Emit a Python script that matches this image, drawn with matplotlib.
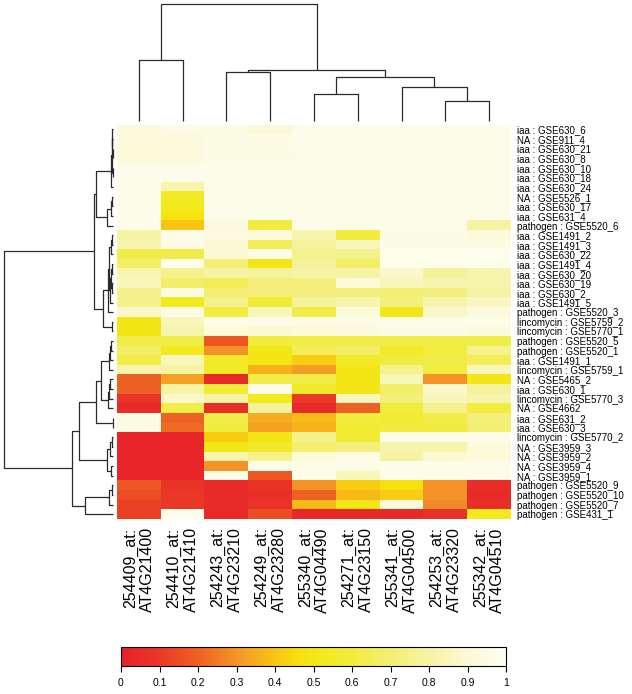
import numpy as np
import matplotlib
matplotlib.use("Agg")
import matplotlib.pyplot as plt
from matplotlib.colors import LinearSegmentedColormap

plt.rcParams['font.family'] = ['Liberation Sans', 'DejaVu Sans']

# ---------------- data ----------------
col_labels = ["254409_at:\nAT4G21400", "254410_at:\nAT4G21410", "254243_at:\nAT4G23210",
              "254249_at:\nAT4G23280", "255340_at:\nAT4G04490", "254271_at:\nAT4G23150",
              "255341_at:\nAT4G04500", "254253_at:\nAT4G23320", "255342_at:\nAT4G04510"]

row_labels = ["iaa : GSE630_6", "NA : GSE911_4", "iaa : GSE630_21", "iaa : GSE630_8",
              "iaa : GSE630_10", "iaa : GSE630_18", "iaa : GSE630_24", "NA : GSE5526_1",
              "iaa : GSE630_17", "iaa : GSE631_4", "pathogen : GSE5520_6", "iaa : GSE1491_2",
              "iaa : GSE1491_3", "iaa : GSE630_22", "iaa : GSE1491_4", "iaa : GSE630_20",
              "iaa : GSE630_19", "iaa : GSE630_2", "iaa : GSE1491_5", "pathogen : GSE5520_3",
              "lincomycin : GSE5759_2", "lincomycin : GSE5770_1", "pathogen : GSE5520_5",
              "pathogen : GSE5520_1", "iaa : GSE1491_1", "lincomycin : GSE5759_1",
              "NA : GSE5465_2", "iaa : GSE630_1", "lincomycin : GSE5770_3", "NA : GSE4662",
              "iaa : GSE631_2", "iaa : GSE630_3", "lincomycin : GSE5770_2", "NA : GSE3959_3",
              "NA : GSE3959_2", "NA : GSE3959_4", "NA : GSE3959_1", "pathogen : GSE5520_9",
              "pathogen : GSE5520_10", "pathogen : GSE5520_7", "pathogen : GSE431_1"]

c_254409 = [0.93, 0.92, 0.92, 0.92, 0.97, 0.97, 0.97, 0.97, 0.97, 0.97,
            0.97, 0.80, 0.82, 0.62, 0.68, 0.82, 0.85, 0.75, 0.75, 0.88,
            0.50, 0.50, 0.62, 0.68, 0.62, 0.82, 0.20, 0.20, 0.08, 0.05,
            0.95, 0.95, 0.03, 0.03, 0.03, 0.03, 0.03, 0.18, 0.15, 0.12, 0.12]
c_254410 = [0.95, 0.93, 0.93, 0.93, 0.97, 0.97, 0.82, 0.54, 0.52, 0.48,
            0.40, 0.97, 0.96, 0.62, 0.98, 0.75, 0.68, 0.95, 0.52, 0.95,
            0.85, 0.82, 0.62, 0.52, 0.85, 0.80, 0.33, 0.80, 0.88, 0.62,
            0.20, 0.22, 0.03, 0.03, 0.03, 0.03, 0.03, 0.08, 0.10, 0.10, 0.98]
c_254243 = [0.95, 0.95, 0.96, 0.95, 0.97, 0.97, 0.97, 0.97, 0.97, 0.97,
            0.93, 0.94, 0.90, 0.90, 0.70, 0.80, 0.65, 0.70, 0.75, 0.60,
            0.97, 0.92, 0.17, 0.30, 0.55, 0.55, 0.05, 0.58, 0.80, 0.06,
            0.62, 0.60, 0.42, 0.50, 0.82, 0.30, 0.97, 0.05, 0.05, 0.05, 0.05]
c_254249 = [0.91, 0.95, 0.95, 0.95, 0.97, 0.97, 0.97, 0.97, 0.97, 0.97,
            0.60, 0.93, 0.65, 0.95, 0.50, 0.78, 0.72, 0.72, 0.58, 0.85,
            0.97, 0.90, 0.60, 0.50, 0.50, 0.36, 0.62, 0.97, 0.52, 0.78,
            0.35, 0.33, 0.50, 0.55, 0.75, 0.97, 0.18, 0.08, 0.07, 0.08, 0.15]
c_255340 = [0.97, 0.97, 0.97, 0.96, 0.97, 0.97, 0.97, 0.97, 0.97, 0.97,
            0.97, 0.82, 0.78, 0.75, 0.78, 0.80, 0.72, 0.72, 0.78, 0.62,
            0.95, 0.92, 0.62, 0.65, 0.42, 0.32, 0.62, 0.55, 0.10, 0.05,
            0.38, 0.36, 0.75, 0.70, 0.92, 0.97, 0.97, 0.30, 0.20, 0.38, 0.04]
c_254271 = [0.97, 0.97, 0.97, 0.97, 0.97, 0.97, 0.97, 0.97, 0.97, 0.97,
            0.97, 0.60, 0.85, 0.75, 0.68, 0.80, 0.92, 0.72, 0.82, 0.92,
            0.96, 0.93, 0.62, 0.68, 0.55, 0.50, 0.50, 0.50, 0.85, 0.20,
            0.60, 0.58, 0.58, 0.72, 0.95, 0.97, 0.85, 0.42, 0.38, 0.50, 0.04]
c_255341 = [0.97, 0.97, 0.97, 0.97, 0.97, 0.97, 0.97, 0.97, 0.97, 0.97,
            0.97, 0.95, 0.96, 0.98, 0.98, 0.88, 0.85, 0.70, 0.72, 0.50,
            0.97, 0.96, 0.62, 0.55, 0.60, 0.75, 0.85, 0.68, 0.72, 0.60,
            0.58, 0.60, 0.97, 0.82, 0.80, 0.97, 0.97, 0.47, 0.42, 0.92, 0.04]
c_254253 = [0.97, 0.97, 0.97, 0.97, 0.97, 0.97, 0.97, 0.97, 0.97, 0.97,
            0.97, 0.95, 0.96, 0.98, 0.98, 0.78, 0.82, 0.72, 0.82, 0.88,
            0.97, 0.95, 0.62, 0.60, 0.62, 0.60, 0.30, 0.88, 0.85, 0.75,
            0.62, 0.60, 0.97, 0.82, 0.90, 0.97, 0.97, 0.30, 0.30, 0.28, 0.07]
c_255342 = [0.97, 0.97, 0.97, 0.97, 0.97, 0.97, 0.97, 0.97, 0.97, 0.97,
            0.80, 0.93, 0.95, 0.98, 0.98, 0.82, 0.82, 0.80, 0.86, 0.93,
            0.97, 0.93, 0.62, 0.75, 0.65, 0.85, 0.50, 0.78, 0.82, 0.60,
            0.72, 0.70, 0.97, 0.92, 0.92, 0.97, 0.97, 0.06, 0.05, 0.06, 0.52]

# dendrogram trees: (merge height, left, right); ints are leaf positions
col_tree = (116, (60, 0, 1),
                 (51, (49, 2, 3),
                      (44, (27, 4, 5), (34, 6, (20, 7, 8)))))

row_tree = (109,
            (19, (17, (2.0, (1.2, (0.9, 0, (0.6, 1, (0.3, 2, 3))), (0.3, 4, 5)), 6),
                       (6, (2, (1, 7, 8), 9), 10)),
                 (10, (5, (4, (2.5, (1.5, 11, 12), 13),
                              (3, (2, (1.2, 14, 15), (1.5, 16, 17)), 18)), 19),
                      (1.5, 20, 21))),
            (41, (34, (17, (12, (4, (3, (2, 22, 23), 24), 25),
                                (5, (4, (3, 26, 27), 28), 29)),
                           (0.5, 30, 31)),
                      (6, (3, (1.5, 32, 33), 34), (2, 35, 36))),
                 (28, (4, (1.5, 37, 38), 39), 40)))

cbar_ticks = [0, 0.1, 0.2, 0.3, 0.4, 0.5, 0.6, 0.7, 0.8, 0.9, 1]
cbar_ticklabels = ["0", "0.1", "0.2", "0.3", "0.4", "0.5", "0.6", "0.7", "0.8", "0.9", "1"]

# ---------------- figure ----------------
W, H = 632, 694
fig = plt.figure(figsize=(W / 100, H / 100), dpi=100)

def px_axes(x0, y0, x1, y1):
    return fig.add_axes([x0 / W, 1 - y1 / H, (x1 - x0) / W, (y1 - y0) / H])

cmap = LinearSegmentedColormap.from_list("heatish", [
    (0.00, "#E81F2A"), (0.10, "#EA3927"), (0.20, "#EE6124"), (0.30, "#F49528"),
    (0.40, "#F9C414"), (0.46, "#F8E00C"), (0.52, "#F2EA1C"), (0.60, "#F2EC3E"),
    (0.70, "#F4EF72"), (0.80, "#F7F3A5"), (0.90, "#FBF9D2"), (1.00, "#FEFEF3")])

data = np.column_stack([c_254409, c_254410, c_254243, c_254249, c_255340,
                        c_254271, c_255341, c_254253, c_255342])
nrow, ncol = data.shape

ax = px_axes(117, 124.5, 511, 519)
im = ax.imshow(data, aspect='auto', cmap=cmap, vmin=0, vmax=1, interpolation='nearest')
for s in ax.spines.values():
    s.set_visible(False)
ax.set_xticks(range(ncol))
ax.set_xticklabels(col_labels, rotation=90, fontsize=11.5, ha='center', va='top',
                   multialignment='right', linespacing=1.2)
ax.tick_params(axis='x', length=0, pad=6)
ax.yaxis.tick_right()
ax.set_yticks(range(nrow))
ax.set_yticklabels(row_labels, fontsize=7.0)
ax.tick_params(axis='y', length=0, pad=4)

lc = "#2a2a2a"
lw = 0.9

def draw(node, a, orient):
    if isinstance(node, int):
        return float(node), 0.0
    h, l, r = node
    p1, h1 = draw(l, a, orient)
    p2, h2 = draw(r, a, orient)
    if orient == 'top':
        a.plot([p1, p1, p2, p2], [h1, h, h, h2], color=lc, lw=lw, clip_on=False,
               solid_capstyle='butt')
    else:
        a.plot([h1, h, h, h2], [p1, p1, p2, p2], color=lc, lw=lw, clip_on=False,
               solid_capstyle='butt')
    return (p1 + p2) / 2, h

axt = px_axes(117, 4, 511, 121)
draw(col_tree, axt, 'top')
axt.set_xlim(-0.5, ncol - 0.5)
axt.set_ylim(0, col_tree[0])
axt.axis('off')

axl = px_axes(4, 124.5, 113, 519)
draw(row_tree, axl, 'left')
axl.set_ylim(nrow - 0.5, -0.5)
axl.set_xlim(row_tree[0], 0)
axl.axis('off')

cax = px_axes(121, 647, 506, 666)
cb = fig.colorbar(im, cax=cax, orientation='horizontal', ticks=cbar_ticks)
cb.set_ticklabels(cbar_ticklabels)
cb.outline.set_linewidth(0.8)
cb.outline.set_edgecolor('black')
cax.tick_params(axis='x', length=4, width=0.8, labelsize=7.5, pad=5, direction='out')

fig.savefig("out.png", dpi=100)
